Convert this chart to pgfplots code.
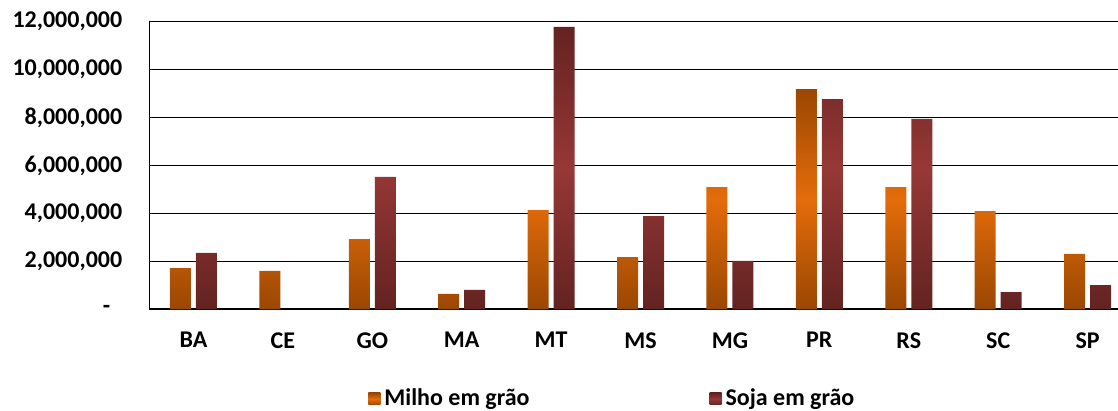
\documentclass[border=0pt]{standalone}
\usepackage{fontspec}
\setmainfont{Carlito}
\usepackage{pgfplots}
\pgfplotsset{compat=1.18}
\definecolor{mdark}{HTML}{9A4703}
\definecolor{mlight}{HTML}{E46C0A}
\definecolor{sdark}{HTML}{632321}
\definecolor{slight}{HTML}{963836}
\begin{document}
\begin{tikzpicture}
\useasboundingbox (0,0) rectangle (559pt,205.5pt);
\begin{axis}[
  at={(74.65pt,50.85pt)}, anchor=south west,
  scale only axis, width=484.35pt, height=143.8pt,
  ybar=2.5pt, bar width=10.5pt,
  xmin=-0.494, xmax=10.34, ymin=0, ymax=12000000,
  xtick={0,...,10}, xticklabels={BA,CE,GO,MA,MT,MS,MG,PR,RS,SC,SP},
  ytick={0,2000000,4000000,6000000,8000000,10000000,12000000},
  yticklabels={{-\hspace*{6pt}},{2,000,000},{4,000,000},{6,000,000},{8,000,000},{10,000,000},{12,000,000}},
  scaled y ticks=false,
  axis lines*=left, axis line style={-, black, line width=0.8pt},
  ymajorgrids, grid style={black, line width=0.65pt},
  major tick length=0pt,
  tick label style={font=\bfseries\fontsize{12}{14}\selectfont},
  xticklabel style={yshift=-8pt},
  yticklabel style={xshift=-10pt},
  legend style={at={(0.2258,-0.262)}, anchor=north west, draw=none, fill=none,
    legend columns=2, font=\bfseries\fontsize{12}{14}\selectfont,
    /tikz/every even column/.append style={column sep=88pt}, inner sep=0pt},
  legend image code/.code={\path[#1] (0pt,-3pt) rectangle (6pt,3pt);},
]
\addplot[draw=none, top color=mdark, bottom color=mdark, middle color=mlight]
 coordinates {(0,1720000) (1,1600000) (2,2930000) (3,640000) (4,4140000) (5,2180000) (6,5100000) (7,9190000) (8,5100000) (9,4100000) (10,2310000)};
\addplot[draw=none, top color=sdark, bottom color=sdark, middle color=slight]
 coordinates {(0,2350000) (2,5520000) (3,810000) (4,11780000) (5,3890000) (6,2020000) (7,8770000) (8,7950000) (9,720000) (10,1010000)};
\legend{Milho em grão, Soja em grão}
\end{axis}
\end{tikzpicture}
\end{document}
